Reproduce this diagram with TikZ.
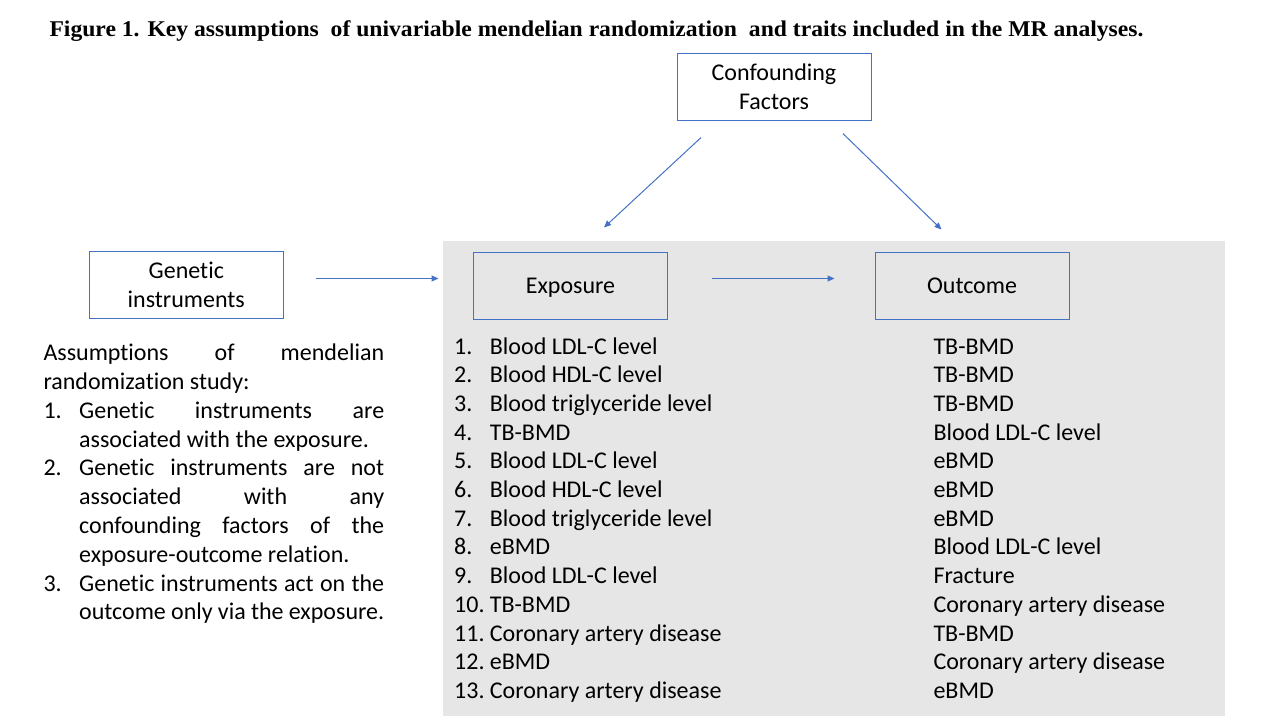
\documentclass[tikz,border=0pt]{standalone}
\usepackage{graphicx}
\usepackage{fontspec}
\setmainfont{Carlito}[Ligatures={NoCommon}]
\newfontfamily\titlefont{Liberation Serif}
\usetikzlibrary{arrows.meta}
\definecolor{boxblue}{HTML}{4472C4}
\definecolor{arrblue}{HTML}{4472C4}
\definecolor{panelgray}{HTML}{E7E6E6}
\begin{document}
\begin{tikzpicture}[x=1pt,y=-1pt,
  every node/.style={inner sep=0pt, font=\fontsize{24}{28.8}\selectfont},
  box/.style={draw=boxblue, line width=1pt, minimum width=194pt, minimum height=67pt, align=center},
  conn/.style={draw=arrblue, line width=1pt, -{Triangle[length=7pt,width=6pt]}},
  lbl/.style={anchor=base west}]
\useasboundingbox (0,0) rectangle (1280,720);
\fill[white] (0,0) rectangle (1280,720);
\fill[panelgray] (443.3,241) rectangle (1225,715.7);

\node[anchor=base west] (title) at (49.3,36)
  {\resizebox{1094pt}{\height}{\titlefont\bfseries\fontsize{22.5}{26}\selectfont Figure 1. Key assumptions\ \ of univariable mendelian randomization\ \ and traits included in the MR analyses.}};

\node[box, fill=white] (conf) at (774,86.6) {Confounding\\Factors};
\node[box, fill=white] (gen) at (186.3,285) {Genetic\\instruments};
\node[box, text depth=0pt] (exp) at (570.5,285.5) {Exposure};
\node[box] (out) at (972,285.5) {Outcome};

\draw[conn] ([xshift=32pt,yshift=6.5pt]gen.east) -- ([xshift=-34.5pt,yshift=7pt]exp.west);
\draw[conn] ([xshift=44pt,yshift=7pt]exp.east) -- ([xshift=-40pt,yshift=7pt]out.west);
\draw[conn] ([xshift=-73pt,yshift=-17pt]conf.south) -- ([xshift=33.5pt,yshift=24pt]exp.north);
\draw[conn] ([xshift=69pt,yshift=-13pt]conf.south) -- ([xshift=-30.5pt,yshift=22pt]out.north);

\node[anchor=base west] (assump) at (43.3,360.7) {\parbox[t]{340.7pt}{%
  \fontsize{24}{28.8}\selectfont\tolerance=10000\hyphenpenalty=10000\exhyphenpenalty=10000
  \noindent Assumptions of mendelian\linebreak randomization study:\par
  \hangindent=35.7pt\hangafter=1\noindent\makebox[35.7pt][l]{1.}Genetic instruments are\linebreak associated with the exposure.\par
  \hangindent=35.7pt\hangafter=1\noindent\makebox[35.7pt][l]{2.}Genetic instruments are not\linebreak associated with any\linebreak confounding factors of the\linebreak exposure-outcome relation.\par
  \hangindent=35.7pt\hangafter=1\noindent\makebox[35.7pt][l]{3.}Genetic instruments act on the\linebreak outcome only via the exposure.\par}};

\foreach \i/\e/\o in {
  1/Blood LDL-C level/TB-BMD,
  2/Blood HDL-C level/TB-BMD,
  3/Blood triglyceride level/TB-BMD,
  4/TB-BMD/Blood LDL-C level,
  5/Blood LDL-C level/eBMD,
  6/Blood HDL-C level/eBMD,
  7/Blood triglyceride level/eBMD,
  8/eBMD/Blood LDL-C level,
  9/Blood LDL-C level/Fracture,
  10/TB-BMD/Coronary artery disease,
  11/Coronary artery disease/TB-BMD,
  12/eBMD/Coronary artery disease,
  13/Coronary artery disease/eBMD} {
  \node[lbl] (n\i) at (454,{354.3+28.67*(\i-1)}) {\i.};
  \node[lbl] (e\i) at (489.7,{354.3+28.67*(\i-1)}) {\e};
  \node[lbl] (o\i) at (933.3,{354.3+28.67*(\i-1)}) {\o};
}
\end{tikzpicture}
\end{document}
